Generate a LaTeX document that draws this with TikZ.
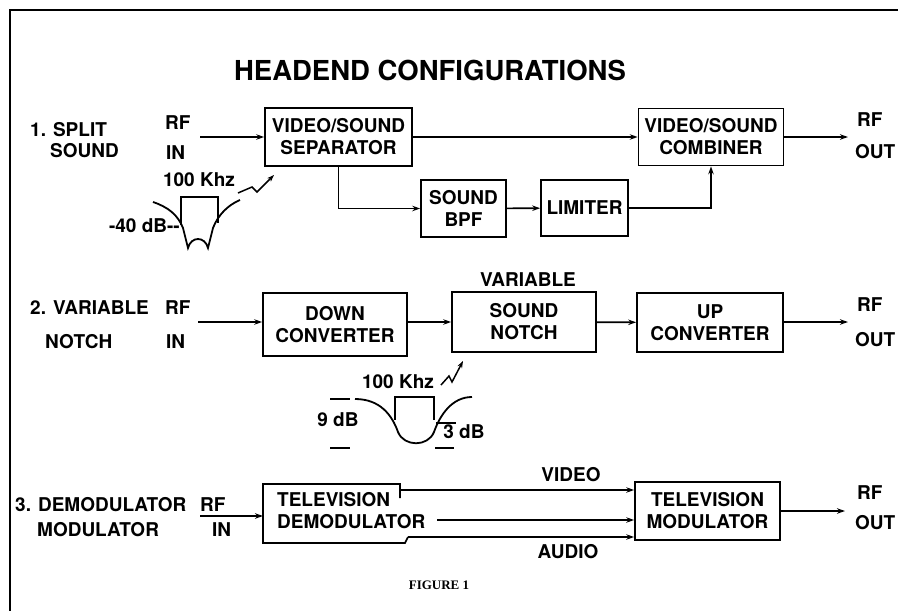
\documentclass[tikz,border=0pt]{standalone}
\usepackage{fontspec}
\setmainfont{TeX Gyre Heros}
\newfontfamily\figfont{Liberation Serif}
\usetikzlibrary{arrows.meta}

\tikzset{
  blk/.style={draw, line width=1.7pt, align=center, inner sep=0pt,
    font=\bfseries\fontsize{19}{22}\selectfont},
  lbl/.style={inner sep=0pt, font=\bfseries\fontsize{19}{22}\selectfont},
  sig/.style={line width=1.6pt, -{Stealth[length=8pt,width=5.5pt]}},
  crv/.style={line width=1.8pt},
}

\begin{document}
\begin{tikzpicture}[x=1pt, y=-1pt]
\useasboundingbox (0,0) rectangle (898,611);

% page frame
\draw[line width=1.6pt] (10,611) -- (10,10) -- (898,10);

\node[lbl, font=\bfseries\fontsize{27.5}{30}\selectfont] (title) at (430,70) {HEADEND CONFIGURATIONS};

%=== 1. SPLIT SOUND ===
\node[lbl, anchor=west] (lab1a) at (30,130) {1. SPLIT};
\node[lbl, anchor=west] (lab1b) at (50,151) {SOUND};
\node[lbl, anchor=west] (rf1) at (165,123) {RF};
\node[lbl, anchor=west] (in1) at (166,153) {IN};

\node[blk, minimum width=147pt, minimum height=58pt] (sep) at (338.5,137) {VIDEO/SOUND\\SEPARATOR};
\node[blk, minimum width=145pt, minimum height=57pt] (comb) at (711,137) {VIDEO/SOUND\\COMBINER};
\node[blk, minimum width=85pt, minimum height=57pt] (bpf) at (463.5,208.5) {SOUND\\BPF};
\node[blk, minimum width=87pt, minimum height=56pt] (lim) at (584.5,208) {LIMITER};

\node[lbl, anchor=west] (rfo1) at (857,120) {RF};
\node[lbl, anchor=west] (out1) at (855,152) {OUT};

\coordinate (src1) at (200,137);
\coordinate (dst1) at (848,137);
\draw[sig] (src1) -- (sep.west);
\draw[sig] (sep.east) -- (comb.west);
\draw[sig] (comb.east) -- (dst1);
\draw[sig] (sep.south) |- (bpf.west);
\draw[sig] (bpf) -- (lim);
\draw[sig] (lim.east) -| (comb.south);

% notch sketch
\draw[crv] (153,202) .. controls (168,207) and (178,215) .. (183,228) -- (188,248)
  .. controls (191,236) and (205,236) .. (208,248)
  -- (213,228) .. controls (218,215) and (228,205) .. (240,200);
\draw[line width=1.4pt] (181,225) -- (181,197) -- (218,197) -- (218,223);
\node[lbl] (khz1) at (199,180) {100 Khz};
\node[lbl, anchor=east] (db40) at (180,226) {-40 dB-{}-};
\draw[line width=1.5pt, -{Stealth[length=7pt,width=5pt]}]
  (238,193) -- (252,187) -- (257,192) -- (274,175);

%=== 2. VARIABLE NOTCH ===
\node[lbl, anchor=west] (lab2a) at (30,308) {2. VARIABLE};
\node[lbl, anchor=west] (lab2b) at (45,342) {NOTCH};
\node[lbl, anchor=west] (rf2) at (165,308) {RF};
\node[lbl, anchor=west] (in2) at (166,342) {IN};

\node[blk, minimum width=144pt, minimum height=63pt] (down) at (335,324.5) {DOWN\\CONVERTER};
\node[blk, minimum width=144pt, minimum height=60pt] (notch) at (524,322) {SOUND\\NOTCH};
\node[blk, minimum width=146pt, minimum height=59pt] (up) at (710,322.5) {UP\\CONVERTER};
\node[lbl] (var) at (528,280) {VARIABLE};

\node[lbl, anchor=west] (rfo2) at (857,305) {RF};
\node[lbl, anchor=west] (out2) at (855,340) {OUT};

\coordinate (src2) at (198,322);
\coordinate (dst2) at (848,322);
\draw[sig] (src2) -- (src2 -| down.west);
\draw[sig] (down.east |- notch) -- (notch.west);
\draw[sig] (notch) -- (up);
\draw[sig] (up.east |- dst2) -- (dst2);

% notch sketch
\draw[crv] (355,399) .. controls (380,399) and (392,415) .. (398,432)
  .. controls (404,447) and (428,447) .. (434,432)
  .. controls (440,415) and (452,397) .. (472,397);
\draw[line width=1.4pt] (395,420) -- (395,397) -- (434,397) -- (434,420);
\node[lbl] (khz2) at (398,382) {100 Khz};
\draw[line width=1.5pt, -{Stealth[length=7pt,width=5pt]}]
  (441,385) -- (449,376) -- (452,382) -- (463,361);
\draw[line width=1.8pt] (330,399) -- (350,399) (330,448) -- (350,448);
\node[lbl] (db9) at (338,420) {9 dB};
\draw[line width=1.8pt] (436,423) -- (456,423) (435,448) -- (454,448);
\node[lbl] (db3) at (464,432) {3 dB};

%=== 3. DEMODULATOR MODULATOR ===
\node[lbl, anchor=west] (lab3a) at (15,505) {3. DEMODULATOR};
\node[lbl, anchor=west] (lab3b) at (37,530) {MODULATOR};
\node[lbl, anchor=west] (rf3) at (200,505) {RF};
\node[lbl, anchor=west] (in3) at (212,530) {IN};

\node[lbl, align=left, anchor=west] (demod) at (277,511) {TELEVISION\\DEMODULATOR};
\draw[line width=1.7pt] (400,498) -- (400,484) -- (263,484) -- (263,543) -- (405,543) -- (408,537);
\node[blk, minimum width=145pt, minimum height=58pt] (mod) at (707.5,511) {TELEVISION\\MODULATOR};

\node[lbl, anchor=west] (rfo3) at (857,493) {RF};
\node[lbl, anchor=west] (out3) at (855,523) {OUT};

\coordinate (src3) at (200,516);
\coordinate (vid) at (400,490);
\coordinate (mid) at (437,520);
\coordinate (aud) at (408,537);
\coordinate (dst3) at (845,511);
\draw[sig] (src3) -- (263,516);
\draw[sig] (vid) -- (vid -| mod.west);
\draw[sig] (mid) -- (mid -| mod.west);
\draw[sig] (aud) -- (aud -| mod.west);
\draw[sig] (mod.east) -- (dst3);
\node[lbl] (video) at (571,475) {VIDEO};
\node[lbl] (audio) at (568,552) {AUDIO};

\node[inner sep=0pt, font=\figfont\bfseries\fontsize{13}{15}\selectfont] (fig) at (439,585) {FIGURE 1};

\end{tikzpicture}
\end{document}
